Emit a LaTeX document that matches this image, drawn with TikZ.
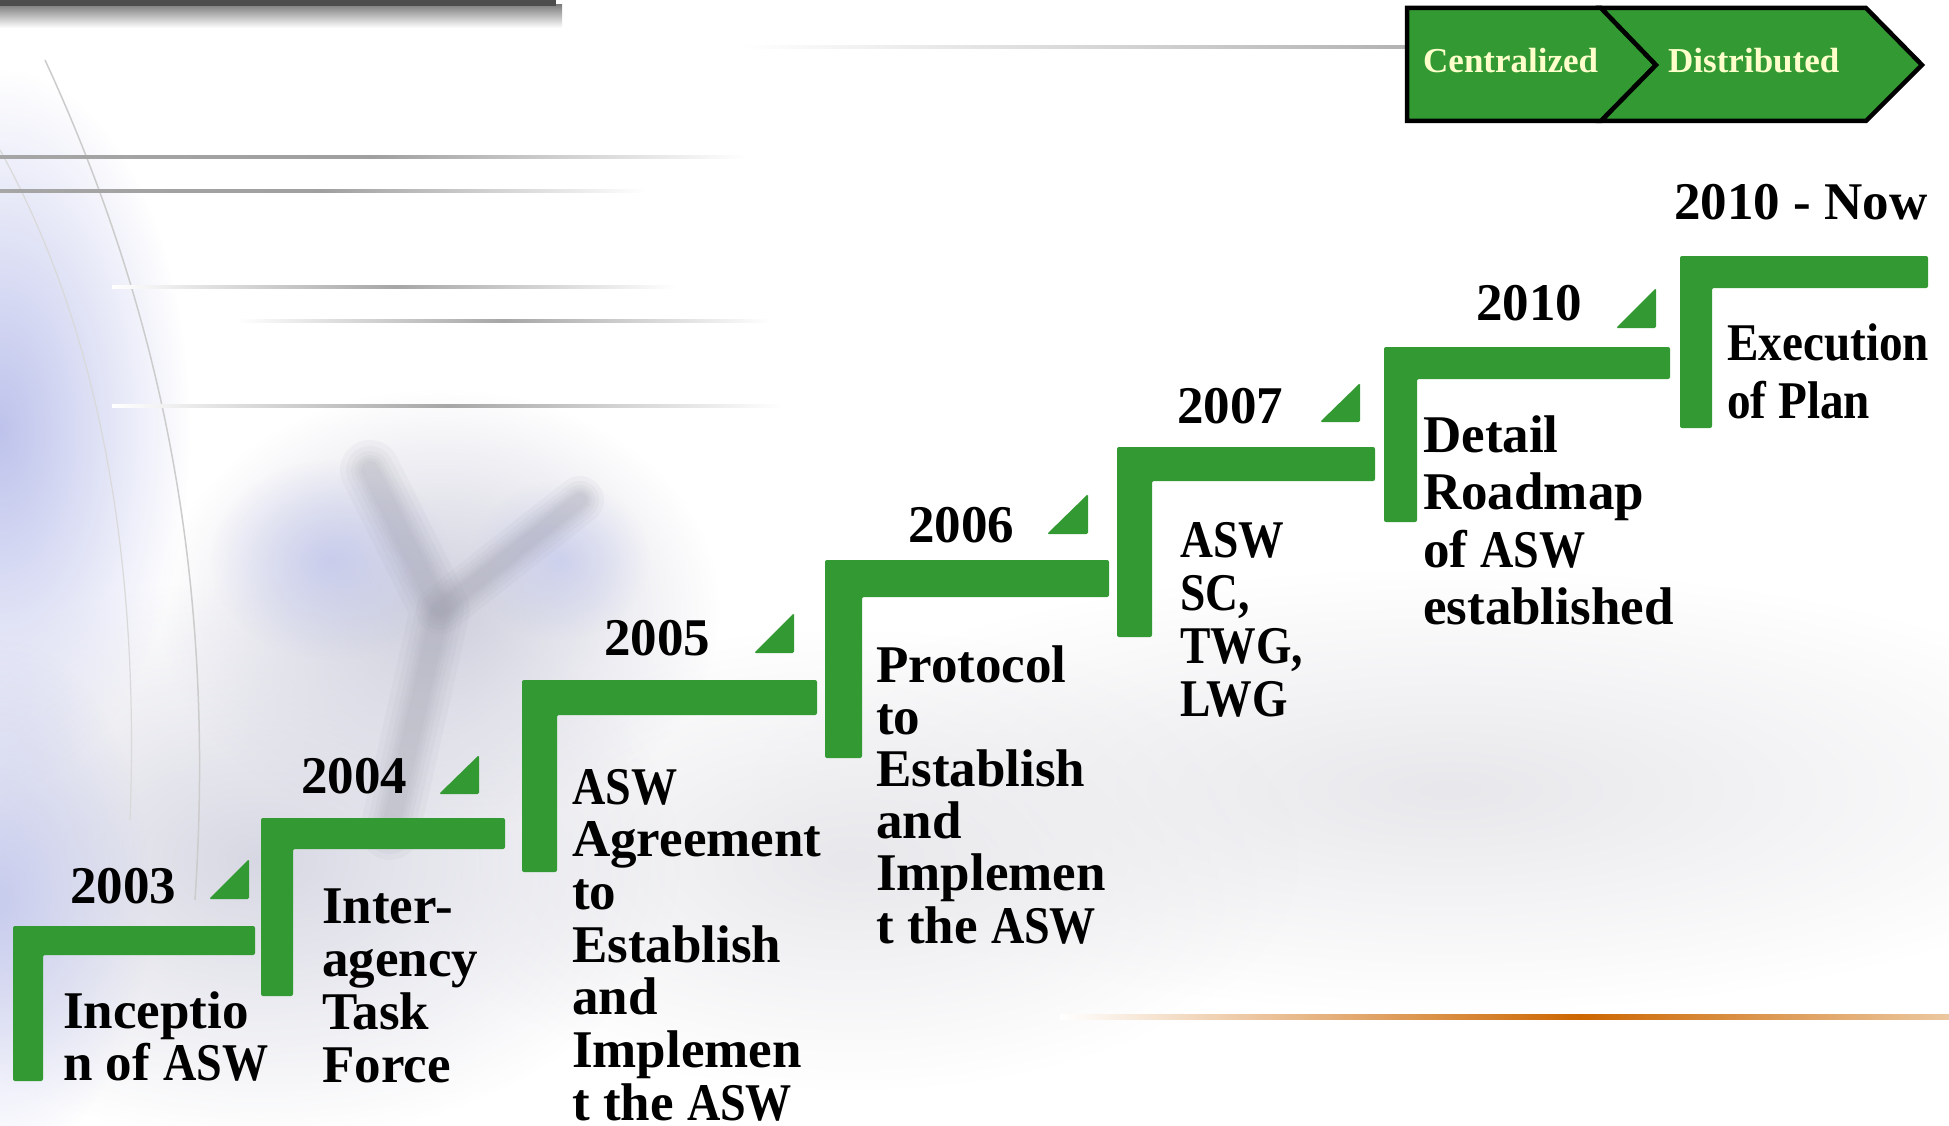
\documentclass[tikz,border=0pt]{standalone}
\usepackage{fontspec}
\usepackage{graphicx}
\setmainfont{Liberation Serif}
\usetikzlibrary{fadings}
\definecolor{stepgreen}{RGB}{51,153,51}
\definecolor{chevtxt}{RGB}{255,255,204}
\definecolor{lav}{RGB}{190,195,236}
\definecolor{bggray}{RGB}{205,206,220}
\definecolor{bglight}{RGB}{232,232,236}
\definecolor{treegray}{RGB}{150,150,165}
\definecolor{orangeline}{RGB}{204,102,0}
\definecolor{orangepale}{RGB}{236,200,160}
\newcommand\stk[2]{\vtop{\baselineskip=#1pt\lineskiplimit=-200pt\lineskip=0pt\halign{##\hfil\cr#2\crcr}}}
\newcommand\asw{\scalebox{0.87}[1]{ASW}}
\newcommand\stepL[6]{\fill[stepgreen, rounded corners=2pt] (#1,#2) -- (#3,#2) -- (#3,#4) -- (#5,#4) -- (#5,#6) -- (#1,#6) -- cycle;}
\newcommand\tri[4]{\fill[stepgreen, rounded corners=1.5pt] (#2,#3) -- (#2,#4) -- (#1,#4) -- cycle;}
\tikzfading[name=fuzzy, inner color=transparent!0, outer color=transparent!100]
\begin{document}
\begin{tikzpicture}[x=1pt,y=-1pt,
  yr/.style={font=\bfseries\fontsize{53}{53}\selectfont, inner sep=0pt, anchor=base west, text=black},
  desc/.style={font=\bfseries\fontsize{53}{53}\selectfont, inner sep=0pt, anchor=base west, text=black},
  chev/.style={fill=stepgreen, draw=black, line width=4.5pt, line join=miter},
  chevt/.style={font=\bfseries\fontsize{35}{35}\selectfont, text=chevtxt, inner sep=0pt, anchor=base west},
  blob/.style={path fading=fuzzy},
  branch/.style={treegray, line cap=round, line join=round, opacity=0.07}
]
\useasboundingbox (0,0) rectangle (1949,1126);
\fill[white] (0,0) rectangle (1949,1126);
% ---------- background ----------
\fill[bglight, blob] (1450,790) ellipse [x radius=700, y radius=220];
\fill[bglight, blob] (850,860) ellipse [x radius=450, y radius=230];
\fill[bggray, blob, opacity=0.8] (260,860) ellipse [x radius=420, y radius=280];
\fill[bggray, blob] (440,610) ellipse [x radius=280, y radius=220];
\fill[lav, blob] (0,430) ellipse [x radius=190, y radius=360];
\fill[lav, blob, opacity=0.8] (0,900) ellipse [x radius=150, y radius=260];
\fill[lav, blob, opacity=0.7] (330,560) ellipse [x radius=120, y radius=100];
\fill[lav, blob, opacity=0.6] (560,560) ellipse [x radius=90, y radius=80];
\foreach \w in {60,48,38,30,24,18} {
  \draw[branch, line width=\w pt] (390,830) -- (440,610) -- (370,470);
  \draw[branch, line width=0.8*\w pt] (440,610) -- (580,500);
}
\draw[gray!40, line width=1.5pt] (45,60) .. controls (170,330) and (215,600) .. (195,900);
\draw[gray!30, line width=1.2pt] (0,150) .. controls (100,330) and (140,560) .. (130,820);
% gray lines
\shade[left color=gray!70, right color=white, middle color=gray!75] (0,155.5) rectangle (746,158.5);
\shade[left color=gray!70, right color=white, middle color=gray!75] (0,189.5) rectangle (646,192.5);
\shade[left color=white, right color=white, middle color=gray!70] (112,285.5) rectangle (677,288.5);
\shade[left color=white, right color=white, middle color=gray!70] (236,319.5) rectangle (771,322.5);
\shade[left color=white, right color=white, middle color=gray!70] (112,404.5) rectangle (783,407.5);
\shade[left color=white, right color=gray!60] (740,45.5) rectangle (1407,48.5);
% top-left bar
\shade[top color=black!50, bottom color=white] (0,5) rectangle (562,28);
\fill[black!70] (0,0) rectangle (556,6);
% orange line
\shade[left color=white, right color=orangeline] (1060,1014.5) rectangle (1580,1019.5);
\shade[left color=orangeline, right color=orangepale] (1580,1014.5) rectangle (1949,1019.5);
% ---------- chevrons ----------
\path[chev] (1407,8) -- (1601,8) -- (1656,65) -- (1601,121) -- (1407,121) -- cycle;
\path[chev] (1601,8) -- (1866,8) -- (1922,65) -- (1866,121) -- (1601,121) -- (1656,65) -- cycle;
\node[chevt] (cen) at (1423,73) {Centralized};
\node[chevt] (dis) at (1668,73) {Distributed};
% ---------- steps ----------
\stepL{13}{926}{255}{955}{43}{1081}
\stepL{261}{818}{505}{849}{293}{996}
\stepL{522}{680}{817}{715}{557}{872}
\stepL{825}{560}{1109}{597}{862}{758}
\stepL{1117}{447}{1375}{481}{1152}{637}
\stepL{1384}{347}{1670}{379}{1417}{522}
\stepL{1680}{256}{1928}{288}{1712}{428}
% triangles
\tri{209}{249}{859}{899}
\tri{439}{479}{755}{794}
\tri{754}{794}{613}{653}
\tri{1047}{1088}{494}{534}
\tri{1320}{1360}{383}{422}
\tri{1616}{1656}{288}{328}
% years
\node[yr] (y2003) at (70,903) {2003};
\node[yr] (y2004) at (301,793) {2004};
\node[yr] (y2005) at (604,655) {2005};
\node[yr] (y2006) at (908,542) {2006};
\node[yr] (y2007) at (1177,423) {2007};
\node[yr] (y2010) at (1476,320) {2010};
\node[yr] (ynow) at (1674,219) {2010 - Now};
% descriptions
\node[desc] (d1) at (63,1028) {\stk{52}{Inceptio\cr n of \asw}};
\node[desc] (d2) at (322,923) {\stk{53.3}{Inter-\cr agency\cr Task\cr Force}};
\node[desc] (d3) at (572,804) {\stk{52.7}{\asw\cr Agreement\cr to\cr Establish\cr and\cr Implemen\cr t the \asw}};
\node[desc] (d4) at (876,682) {\stk{52.2}{Protocol\cr to\cr Establish\cr and\cr Implemen\cr t the \asw}};
\node[desc] (d5) at (1180,557) {\scalebox{0.86}[1]{\stk{53.3}{ASW\cr SC,\cr TWG,\cr LWG}}};
\node[desc] (d6) at (1423,452) {\stk{57.6}{Detail\cr Roadmap\cr of \asw\cr established}};
\node[desc] (d7) at (1727,360) {\scalebox{0.89}[1]{\stk{58}{Execution\cr of Plan}}};
\end{tikzpicture}
\end{document}
